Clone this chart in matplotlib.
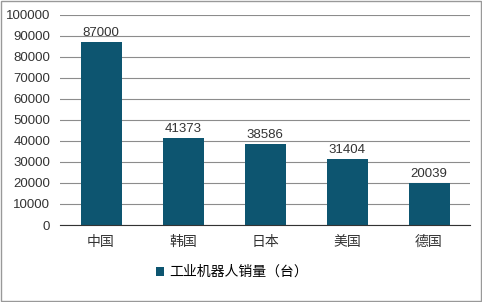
import matplotlib.pyplot as plt
from matplotlib.patches import Rectangle

plt.rcParams['font.family'] = ['Noto Sans CJK SC', 'DejaVu Sans']

countries = ['中国', '韩国', '日本', '美国', '德国']
sales = [87000, 41373, 38586, 31404, 20039]
yticks = list(range(0, 100001, 10000))

fig = plt.figure(figsize=(4.82, 3.02), dpi=100)
ax = fig.add_axes([60 / 482, 77 / 302, 410 / 482, 210 / 302])

bars = ax.bar(countries, sales, width=0.5, color='#0D5570', label='工业机器人销量（台）', zorder=3)
for b, v in zip(bars, sales):
    ax.text(b.get_x() + b.get_width() / 2, v + 1500, str(v), ha='center', va='bottom',
            fontsize=9.5, color='#333333', family='Liberation Sans')

ax.set_ylim(0, 100000)
ax.set_xlim(-0.5, 4.5)
ax.set_yticks(yticks)
ax.set_yticklabels([str(t) for t in yticks], family='Liberation Sans', fontsize=9.5)
ax.yaxis.grid(True, color='#8c8c8c', linewidth=0.8, zorder=0)
ax.tick_params(axis='both', length=0, colors='#333333')
ax.tick_params(axis='y', pad=7)
ax.tick_params(axis='x', pad=7, labelsize=10)
for s in ['top', 'right', 'left']:
    ax.spines[s].set_visible(False)
ax.spines['bottom'].set_color('#333333')
ax.spines['bottom'].set_zorder(4)

ax.legend(loc='center', bbox_to_anchor=(232 / 482, 30 / 302), bbox_transform=fig.transFigure,
          frameon=False, fontsize=10, handlelength=0.6, handleheight=0.6, handletextpad=0.4)

fig.patches.append(Rectangle((0.002, 0.003), 0.996, 0.994, transform=fig.transFigure,
                             fill=False, edgecolor='#999999', linewidth=1))

fig.savefig('out.png', dpi=100)
